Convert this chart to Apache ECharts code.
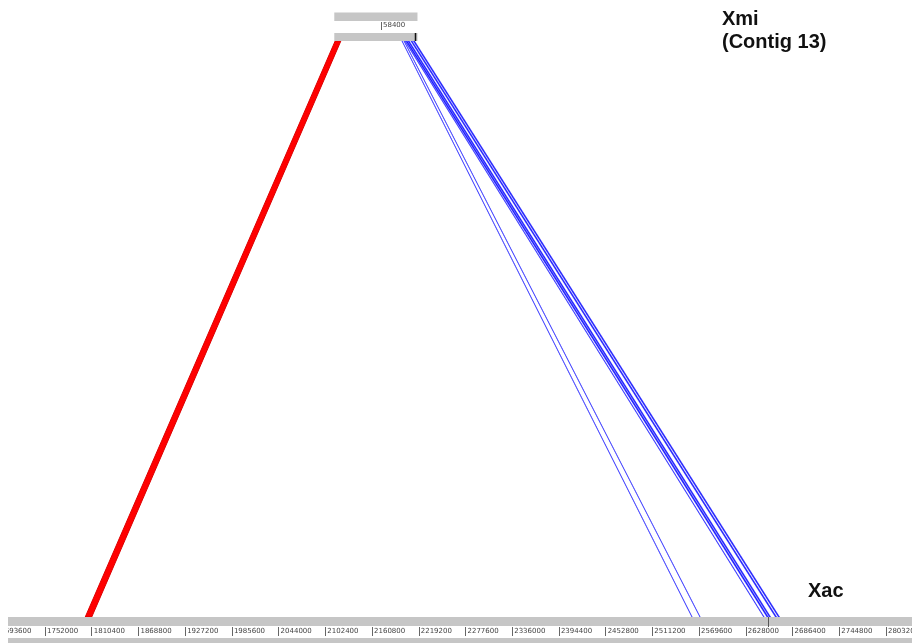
<!DOCTYPE html>
<html>
<head>
<meta charset="utf-8">
<title>Xmi contig 13 vs Xac</title>
<script src="https://cdn.jsdelivr.net/npm/echarts@6/dist/echarts.min.js"></script>
<style>
  html, body { margin: 0; padding: 0; background: #ffffff; }
  #chart { width: 912px; height: 643px; }
</style>
</head>
<body>
<div id="chart"></div>
<script>
// ---- sequence coordinates (bp) ----
// Xmi contig 13 (top sequence)
const xmiExtent = [-420000, 722150];
const xmiContig = [0, 104000];
const xmiTicks = [58400];
const xmiMark = [101500];

// Xac chromosome window (bottom sequence)
const xacExtent = [1693600, 2835750];
const xacTicks = [1693600, 1752000, 1810400, 1868800, 1927200, 1985600, 2044000,
  2102400, 2160800, 2219200, 2277600, 2336000, 2394400, 2452800, 2511200,
  2569600, 2628000, 2686400, 2744800, 2803200];
const xacMark = [2656000];

// Forward-strand matches: [xmiStart, xmiEnd, xacStart, xacEnd]
const forwardMatches = [
  [1100, 8200, 1802300, 1810400]
];

// Reverse-strand matches: [xmiStart, xmiEnd, xacStart, xacEnd]
const reverseMatches = [
  [84500, 84900, 2560600, 2561000],
  [87000, 87400, 2570600, 2571000],
  [88100, 88800, 2650300, 2651000],
  [89500, 91300, 2654400, 2656200],
  [92000, 93600, 2657500, 2659100],
  [95700, 97300, 2665000, 2666600],
  [98800, 100400, 2668700, 2670300]
];

// ---- layout (pixels) ----
const ROW = {
  xmiFwd: [12.5, 21],
  xmiRev: [33, 41],
  xmiScale: [22, 30],
  xacFwd: [617, 626],
  xacRev: [638, 644]
};
const GRAY = '#c6c6c6';

const chart = echarts.init(document.getElementById('chart'), null, { renderer: 'canvas' });

function xPix(axisIndex, v) {
  return chart.convertToPixel({ xAxisIndex: axisIndex }, v);
}

// gray feature tracks of each sequence
function trackItem(rows) {
  return function (params, api) {
    const x0 = api.coord([api.value(0), 0])[0];
    const x1 = api.coord([api.value(1), 0])[0];
    return {
      type: 'group',
      children: rows.map(function (r) {
        return {
          type: 'rect',
          shape: { x: x0, y: r[0], width: x1 - x0, height: r[1] - r[0] },
          style: { fill: GRAY }
        };
      })
    };
  };
}

// vertical mark at a sequence position
function markItem(row, color, width) {
  return function (params, api) {
    const x = Math.round(api.coord([api.value(0), 0])[0]) + 0.5;
    return {
      type: 'line',
      shape: { x1: x, y1: row[0], x2: x, y2: row[1] },
      style: { stroke: color, lineWidth: width }
    };
  };
}

// comparison match bands between the two sequences
function matchItem(fill, stroke, lw) {
  return function (params, api) {
    const t0 = xPix(0, api.value(0));
    const t1 = xPix(0, api.value(1));
    const b0 = xPix(1, api.value(2));
    const b1 = xPix(1, api.value(3));
    const yt = ROW.xmiRev[1];
    const yb = ROW.xacFwd[0];
    return {
      type: 'polygon',
      shape: { points: [[t0, yt], [t1, yt], [b1, yb], [b0, yb]] },
      style: { fill: fill, stroke: stroke, lineWidth: lw }
    };
  };
}

const tickFont = { fontFamily: 'DejaVu Sans', fontSize: 7, color: '#444' };
const plain = function (v) { return String(v); };

const option = {
  animation: false,
  backgroundColor: '#ffffff',
  grid: { left: -1.72, right: 0, top: 22, bottom: 16, outerBoundsMode: 'none', containLabel: false },
  xAxis: [
    {
      type: 'value', position: 'top', min: xmiExtent[0], max: xmiExtent[1],
      axisLine: { show: false }, splitLine: { show: false },
      axisTick: { show: false },
      axisLabel: Object.assign({ show: true, inside: true, margin: 0, align: 'left',
        verticalAlign: 'top', padding: [0, 0, 0, 2], customValues: xmiTicks,
        formatter: plain }, tickFont)
    },
    {
      type: 'value', position: 'bottom', min: xacExtent[0], max: xacExtent[1],
      axisLine: { show: false }, splitLine: { show: false },
      axisTick: { show: true, inside: false, length: 9, customValues: xacTicks,
        lineStyle: { color: '#666', width: 1 } },
      axisLabel: Object.assign({ show: true, margin: 1, align: 'left',
        verticalAlign: 'top', padding: [0, 0, 0, 2], customValues: xacTicks,
        formatter: plain }, tickFont)
    }
  ],
  yAxis: { type: 'value', min: 0, max: 1, show: false },
  series: [
    {
      type: 'custom', name: 'Xac-Xmi forward', xAxisIndex: 1, z: 2,
      renderItem: matchItem('#ff0000', '#dd0000', 1),
      data: forwardMatches
    },
    {
      type: 'custom', name: 'Xac-Xmi reverse', xAxisIndex: 1, z: 2,
      renderItem: matchItem('#1010ff', '#3030ff', 0.5),
      data: reverseMatches
    },
    {
      type: 'custom', name: 'Xmi tracks', xAxisIndex: 0, z: 3,
      renderItem: trackItem([ROW.xmiFwd, ROW.xmiRev]),
      data: [xmiContig]
    },
    {
      type: 'custom', name: 'Xac tracks', xAxisIndex: 1, z: 3,
      renderItem: trackItem([ROW.xacFwd, ROW.xacRev]),
      data: [xacExtent]
    },
    {
      type: 'custom', name: 'Xmi scale ticks', xAxisIndex: 0, z: 4,
      renderItem: markItem(ROW.xmiScale, '#666', 1),
      data: xmiTicks.map(function (v) { return [v]; })
    },
    {
      type: 'custom', name: 'Xmi mark', xAxisIndex: 0, z: 4,
      renderItem: markItem(ROW.xmiRev, '#111', 1.5),
      data: xmiMark.map(function (v) { return [v]; })
    },
    {
      type: 'custom', name: 'Xac mark', xAxisIndex: 1, z: 4,
      renderItem: markItem([ROW.xacFwd[0], ROW.xacFwd[1] + 1], '#555', 1),
      data: xacMark.map(function (v) { return [v]; })
    }
  ],
  graphic: [
    // left margin of the comparison panel
    { type: 'rect', left: 0, top: 600, shape: { width: 8, height: 43 },
      style: { fill: '#ffffff' }, z: 100 },
    { type: 'text', left: 722, top: 8, z: 100,
      style: { text: 'Xmi\n(Contig 13)', fill: '#111', lineHeight: 23,
        font: 'bold 20px "Liberation Sans", Arial, sans-serif' } },
    { type: 'text', left: 808, top: 581, z: 100,
      style: { text: 'Xac', fill: '#111',
        font: 'bold 20px "Liberation Sans", Arial, sans-serif' } }
  ]
};

chart.setOption(option);
</script>
</body>
</html>
